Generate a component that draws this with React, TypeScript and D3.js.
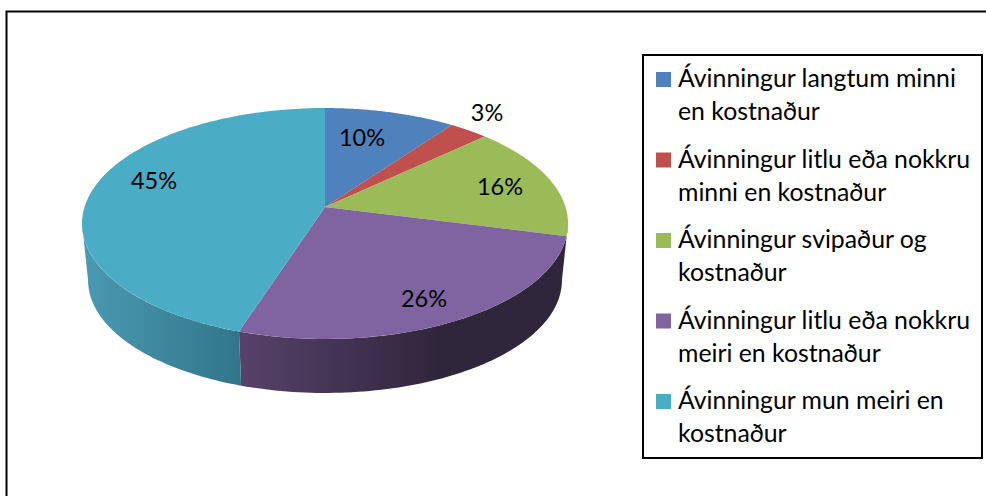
import React from "react";
import * as d3 from "d3";

const categories = [
  "Ávinningur langtum minni|en kostnaður",
  "Ávinningur litlu eða nokkru|minni en kostnaður",
  "Ávinningur svipaður og|kostnaður",
  "Ávinningur litlu eða nokkru|meiri en kostnaður",
  "Ávinningur mun meiri en|kostnaður",
];
const values = [10, 3, 16, 26, 45];
const labels = ["10%", "3%", "16%", "26%", "45%"];
const colors = ["#4f81bd", "#c0504d", "#9bbb59", "#8064a2", "#4bacc6"];
const labelPos = [[362, 140], [487, 115], [500, 189], [424, 301], [154, 183]];
const wallStops: Record<number, [string, string]> = {
  3: ["#57426b", "#30263c"],
  4: ["#4a9ab3", "#32768a"],
};

const FONT = "Lato, Carlito, Calibri, sans-serif";

const cx = 325, cy = 207, A = 240.5, B = 113.1, C = 0.1429;
const S = 0.975, D = 57.3;
const visStart = Math.acos(-C);
const visEnd = 2 * Math.PI - visStart;

function top(t: number): [number, number] {
  const X = Math.sin(t), Y = Math.cos(t), w = 1 + C * Y;
  return [cx + (A * X) / w, cy - (B * Y) / w];
}
function bot(t: number): [number, number] {
  const [x, y] = top(t);
  return [cx + (x - cx) * S, cy + (y - cy) * S + D];
}

export default function App() {
  const arcs = d3.pie<number>().sort(null)(values);
  const line = d3.line();
  const sample = (a: number, b: number) => d3.range(0, 81).map((i) => a + ((b - a) * i) / 80);
  const wall = (a: number, b: number) => {
    const s = sample(Math.min(a, Math.max(a, visStart)), Math.min(b, visEnd));
    return line([...s.map(top), ...s.slice().reverse().map(bot)]) + "Z";
  };
  const slice = (a: number, b: number) =>
    line([[cx, cy], ...sample(a, b).map(top)] as [number, number][]) + "Z";
  const leftX = 82, rightX = 568;
  const legendTop = 64, step = 80.5, lh = 33;
  const split = top(arcs[3].endAngle)[0];
  return (
    <svg
      width={986}
      height={496}
      style={{ position: "absolute", left: 0, top: 0, background: "#fff" }}
    >
      <defs>
        {Object.entries(wallStops).map(([i, s]) => {
          const x0 = i === "3" ? split : leftX;
          const x1 = i === "3" ? rightX : split;
          return (
            <linearGradient key={i} id={`w${i}`} gradientUnits="userSpaceOnUse" x1={x0} x2={x1} y1={0} y2={0}>
              <stop offset="0" stopColor={s[0]} />
              <stop offset={i === "3" ? 0.6 : 1} stopColor={s[1]} />
              <stop offset="1" stopColor={s[1]} />
            </linearGradient>
          );
        })}
      </defs>
      <path d="M6.5 496V11.5H986" fill="none" stroke="#000" strokeWidth={2} />
      {arcs.map((a, i) =>
        wallStops[i] ? (
          <path
            key={i}
            d={wall(i === 3 ? visStart : a.startAngle, a.endAngle)}
            fill={`url(#w${i})`}
          />
        ) : null
      )}
      {arcs.map((a, i) => (
        <path key={i} d={slice(a.startAngle, a.endAngle)} fill={colors[i]} />
      ))}
      {labels.map((l, i) => (
        <text key={i} x={labelPos[i][0]} y={labelPos[i][1]} textAnchor="middle" fontFamily={FONT} fontSize={23.5} dominantBaseline="middle" fill="#000">
          {l}
        </text>
      ))}
      <rect x={643} y={55} width={339} height={403} fill="#fff" stroke="#000" strokeWidth={2} />
      {categories.map((c, i) => {
        const [l1, l2] = c.split("|");
        const y = legendTop + i * step;
        return (
          <g key={i}>
            <rect x={656} y={y + 8} width={15} height={15} fill={colors[i]} />
            <text x={678} y={y + 23} fontFamily={FONT} fontSize={24.8} fill="#000">{l1}</text>
            <text x={678} y={y + 23 + lh} fontFamily={FONT} fontSize={24.8} fill="#000">{l2}</text>
          </g>
        );
      })}
    </svg>
  );
}
